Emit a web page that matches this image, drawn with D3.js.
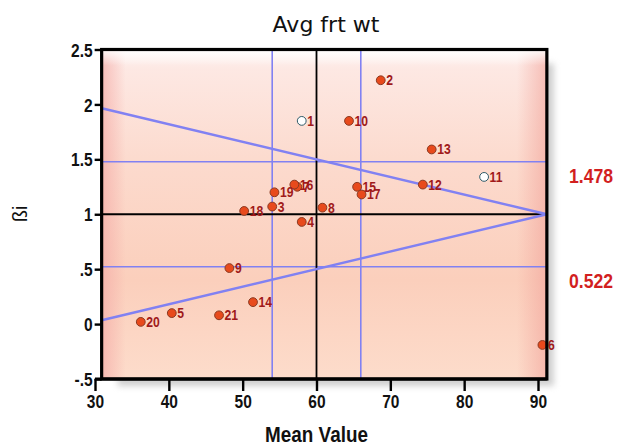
<!DOCTYPE html>
<html>
<head>
<meta charset="utf-8">
<script src="https://cdn.jsdelivr.net/npm/d3@7"></script>
<style>
body { margin: 0; background: #fff; }
svg { display: block; }
</style>
</head>
<body>
<svg id="chart" width="617" height="447"></svg>
<script>
// genotype numbers with their mean value and regression coefficient (bi)
var genotypes = ["1","2","3","4","5","6","7","8","9","10","11","12","13","14","15","16","17","18","19","20","21"];
var meanValue = [58.0, 68.7, 54.0, 58.0, 40.4, 90.6, 57.4, 60.8, 48.2, 64.4, 82.7, 74.4, 75.6, 51.4, 65.5, 57.0, 66.1, 50.2, 54.3, 36.2, 46.8];
var beta      = [1.85, 2.22, 1.07, 0.93, 0.10, -0.19, 1.25, 1.06, 0.51, 1.85, 1.34, 1.27, 1.59, 0.20, 1.25, 1.27, 1.18, 1.03, 1.20, 0.02, 0.08];
var openGenotypes = ["1", "11"];

// reference lines
var grandMean = 60;
var meanBand = [54, 66];
var betaBand = [1.478, 0.522];
var limitX = [30.9, 91.2];
var upperLimit = [1.965, 1.0];
var lowerLimit = [0.035, 1.0];

var xTicks = [30, 40, 50, 60, 70, 80, 90];
var yTicks = [-0.5, 0, 0.5, 1, 1.5, 2, 2.5];
var yTickLabels = ["-.5", "0", ".5", "1", "1.5", "2", "2.5"];

// no narrow font installed: squeeze Liberation Sans Bold sideways instead
var bold = '"Liberation Sans", Arial, sans-serif';
var squeeze = 0.84;

var svg = d3.select("#chart");

var x = d3.scaleLinear().domain([30, 90]).range([95, 538]);
var y = d3.scaleLinear().domain([-0.5, 2.5]).range([379, 49.5]);

var fl = x(limitX[0]), fr = x(limitX[1]);
var ft = y(2.5), fb = y(-0.5);

var defs = svg.append("defs");

var bgV = defs.append("linearGradient").attr("id", "bgV")
    .attr("x1", 0).attr("y1", 0).attr("x2", 0).attr("y2", 1);
[[0, "#fff4f2"], [0.06, "#fde8e3"], [0.35, "#fcdacd"], [0.7, "#fbcfbc"], [1, "#fddccb"]].forEach(function(s){
    bgV.append("stop").attr("offset", s[0]).attr("stop-color", s[1]);
});
var edgeL = defs.append("linearGradient").attr("id", "edgeL");
edgeL.append("stop").attr("offset", 0).attr("stop-color", "#f4aaa6").attr("stop-opacity", 0.7);
edgeL.append("stop").attr("offset", 1).attr("stop-color", "#f4aaa6").attr("stop-opacity", 0);
var edgeR = defs.append("linearGradient").attr("id", "edgeR");
edgeR.append("stop").attr("offset", 0).attr("stop-color", "#f2a59c").attr("stop-opacity", 0);
edgeR.append("stop").attr("offset", 1).attr("stop-color", "#f2a59c").attr("stop-opacity", 0.65);
var edgeT = defs.append("linearGradient").attr("id", "edgeT")
    .attr("x1", 0).attr("y1", 0).attr("x2", 0).attr("y2", 1);
edgeT.append("stop").attr("offset", 0).attr("stop-color", "#ffffff").attr("stop-opacity", 0.9);
edgeT.append("stop").attr("offset", 1).attr("stop-color", "#ffffff").attr("stop-opacity", 0);

defs.append("filter").attr("id", "blur")
    .attr("x", -0.1).attr("y", -0.1).attr("width", 1.2).attr("height", 1.2)
    .append("feGaussianBlur").attr("stdDeviation", 3);

// drop shadow
svg.append("rect")
    .attr("x", fl + 16).attr("y", ft + 14)
    .attr("width", fr - fl - 9).attr("height", fb - ft - 7)
    .attr("fill", "#a0a0a0").attr("opacity", 0.5)
    .attr("filter", "url(#blur)");

// plot background
svg.append("rect").attr("x", fl).attr("y", ft).attr("width", fr - fl).attr("height", fb - ft)
    .attr("fill", "url(#bgV)");
svg.append("rect").attr("x", fl).attr("y", ft).attr("width", 24).attr("height", fb - ft)
    .attr("fill", "url(#edgeL)");
svg.append("rect").attr("x", fr - 30).attr("y", ft).attr("width", 30).attr("height", fb - ft)
    .attr("fill", "url(#edgeR)");
svg.append("rect").attr("x", fl).attr("y", ft).attr("width", fr - fl).attr("height", 16)
    .attr("fill", "url(#edgeT)");

var blue = "#8181f2";

// blue reference lines
betaBand.forEach(function(b){
    svg.append("line").attr("x1", fl).attr("x2", fr).attr("y1", y(b)).attr("y2", y(b))
        .attr("stroke", blue).attr("stroke-width", 1.6);
});
meanBand.forEach(function(m){
    svg.append("line").attr("x1", x(m)).attr("x2", x(m)).attr("y1", ft).attr("y2", fb)
        .attr("stroke", blue).attr("stroke-width", 1.6);
});

// black reference lines
svg.append("line").attr("x1", fl).attr("x2", fr).attr("y1", y(1)).attr("y2", y(1))
    .attr("stroke", "#000").attr("stroke-width", 2.2);
svg.append("line").attr("x1", x(grandMean)).attr("x2", x(grandMean)).attr("y1", ft).attr("y2", fb)
    .attr("stroke", "#000").attr("stroke-width", 1.8);

// limit lines
var line = d3.line().x(function(d){ return x(d[0]); }).y(function(d){ return y(d[1]); });
[upperLimit, lowerLimit].forEach(function(lim){
    svg.append("path")
        .attr("d", line(limitX.map(function(v, i){ return [v, lim[i]]; })))
        .attr("fill", "none").attr("stroke", blue).attr("stroke-width", 2.4);
});

// points
var pts = genotypes.map(function(g, i){
    return { name: g, mx: meanValue[i], b: beta[i], open: openGenotypes.indexOf(g) >= 0 };
});

var node = svg.selectAll(".pt").data(pts).enter().append("g").attr("class", "pt");
node.append("circle")
    .attr("cx", function(d){ return x(d.mx); })
    .attr("cy", function(d){ return y(d.b); })
    .attr("r", 4.4)
    .attr("fill", function(d){ return d.open ? "#ffffff" : "#e84a1c"; })
    .attr("stroke", function(d){ return d.open ? "#2e5a68" : "#8a3a22"; })
    .attr("stroke-width", 1);
node.append("text")
    .attr("transform", function(d){
        return "translate(" + (x(d.mx) + 5.5) + "," + (y(d.b) + 5) + ") scale(" + squeeze + ",1)";
    })
    .attr("font-family", bold)
    .attr("font-weight", "bold")
    .attr("font-size", "14.5px")
    .attr("fill", "#a01a1a")
    .text(function(d){ return d.name; });

// frame
svg.append("rect").attr("x", fl).attr("y", ft).attr("width", fr - fl).attr("height", fb - ft)
    .attr("fill", "none").attr("stroke", "#000").attr("stroke-width", 3.2);

// axes
var yAxis = svg.append("g")
    .attr("transform", "translate(" + fl + ",0)")
    .call(d3.axisLeft(y).tickValues(yTicks).tickSize(7).tickPadding(2)
        .tickFormat(function(d, i){ return yTickLabels[i]; }));
var xAxis = svg.append("g")
    .attr("transform", "translate(0," + fb + ")")
    .call(d3.axisBottom(x).tickValues(xTicks).tickSize(12).tickPadding(4));

[yAxis, xAxis].forEach(function(a){
    a.select(".domain").remove();
    a.selectAll(".tick line").attr("stroke", "#000").attr("stroke-width", 2.4);
    a.selectAll(".tick text")
        .attr("font-family", bold).attr("font-weight", "bold")
        .attr("font-size", "18.5px").attr("fill", "#111")
        .attr("transform", "scale(" + squeeze + ",1)");
});
yAxis.selectAll(".tick text").attr("dy", "0.36em").attr("x", -9 / squeeze);
svg.append("line").attr("x1", x(30)).attr("x2", fr).attr("y1", fb).attr("y2", fb)
    .attr("stroke", "#000").attr("stroke-width", 3.2);

// beta band values on the right
betaBand.forEach(function(b){
    svg.append("text")
        .attr("transform", "translate(569," + (y(b) + 21) + ") scale(" + squeeze + ",1)")
        .attr("font-family", bold).attr("font-weight", "bold")
        .attr("font-size", "21px").attr("fill", "#d21f1f")
        .text(b.toFixed(3));
});

// titles
svg.append("text").attr("x", 326).attr("y", 32)
    .attr("text-anchor", "middle")
    .attr("font-family", '"DejaVu Sans", sans-serif')
    .attr("font-size", "22px").attr("fill", "#111")
    .text("Avg frt wt");

svg.append("text")
    .attr("transform", "translate(" + x(60) + ",442) scale(" + squeeze + ",1)")
    .attr("text-anchor", "middle")
    .attr("font-family", bold).attr("font-weight", "bold")
    .attr("font-size", "22.5px").attr("fill", "#111")
    .text("Mean Value");

svg.append("text")
    .attr("transform", "translate(27,214) rotate(-90)")
    .attr("text-anchor", "middle")
    .attr("font-family", '"Liberation Sans", Arial, sans-serif')
    .attr("font-size", "20px").attr("fill", "#111")
    .text("ßi");
</script>
</body>
</html>
